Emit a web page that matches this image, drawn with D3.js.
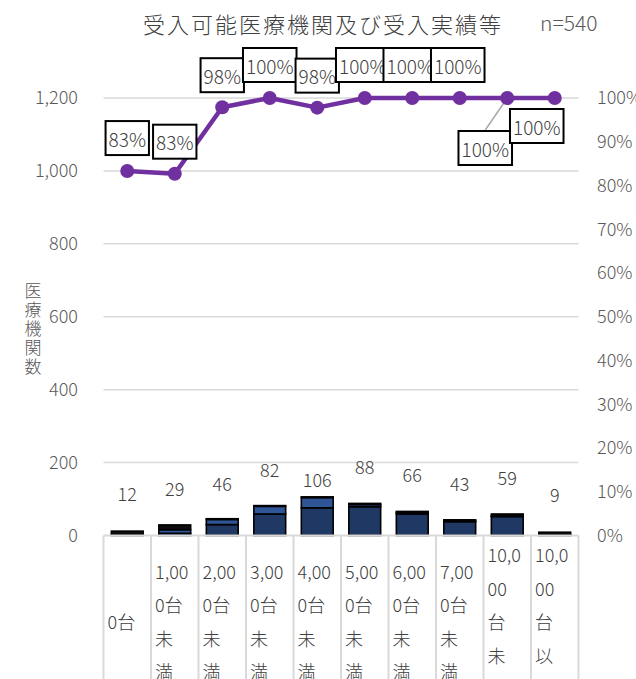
<!DOCTYPE html>
<html>
<head>
<meta charset="utf-8">
<script src="https://cdn.jsdelivr.net/npm/d3@7"></script>
<style>
  body { margin: 0; background: #fff; }
  text { font-family: "Noto Sans CJK JP", "Noto Sans", sans-serif; font-weight: 300; }
</style>
</head>
<body>
<div id="chart"></div>
<script>
// categories and their wrapped tick labels (as drawn in the table cells)
const categories = ["0台", "1,000台未満", "2,000台未満", "3,000台未満", "4,000台未満",
  "5,000台未満", "6,000台未満", "7,000台未満", "10,000台未満", "10,000台以上"];
const tickLines = [
  ["0台"], ["1,00", "0台", "未", "満"], ["2,00", "0台", "未", "満"], ["3,00", "0台", "未", "満"],
  ["4,00", "0台", "未", "満"], ["5,00", "0台", "未", "満"], ["6,00", "0台", "未", "満"],
  ["7,00", "0台", "未", "満"], ["10,0", "00", "台", "未", "満"], ["10,0", "00", "台", "以", "上"]
];

// stacked bar series (counts of institutions)
const seriesNavy = [2, 6, 30, 59, 76, 79, 59, 38, 52, 2];
const seriesBlue = [0, 10, 14, 21, 28, 6, 4, 1, 1, 0];
const seriesBlack = [10, 13, 2, 2, 2, 3, 3, 4, 6, 7];
const totals = [12, 29, 46, 82, 106, 88, 66, 43, 59, 9];

// line series (acceptance rate, right axis)
const acceptRate = [0.833, 0.827, 0.979, 1, 0.978, 1, 1, 1, 1, 1];
const rateLabels = ["83%", "83%", "98%", "100%", "98%", "100%", "100%", "100%", "100%", "100%"];

const leftTicks = [0, 200, 400, 600, 800, 1000, 1200];
const rightTicks = [0, .1, .2, .3, .4, .5, .6, .7, .8, .9, 1];

const width = 636, height = 679;
const marginLeft = 103.5, marginRight = 57.5, marginTop = 98, marginBottom = 144;

// manual label nudges (like the hand-placed labels in the original)
const rateLabelShift = [[0, -33], [0, -32], [0, -32], [0, -33], [0, -32], [-2, -33], [-2, -33], [-2, -33], [-22, 50], [-18, 28]];
const totalLabelShift = [-38, -37, -36, -37, -18, -37, -37, -37, -37, -38];

const svg = d3.select("#chart").append("svg")
    .attr("width", width)
    .attr("height", height);

const x = d3.scaleBand(categories, [marginLeft, width - marginRight]).paddingInner(0.33).paddingOuter(0.165);
const xCell = d3.scaleBand(categories, [marginLeft, width - marginRight]);
const y = d3.scaleLinear([0, 1200], [height - marginBottom - 0.5 + 1, marginTop]);
const yR = d3.scaleLinear([0, 1], y.range());

// gridlines
svg.append("g")
  .selectAll("line")
  .data(leftTicks.slice(1))
  .join("line")
    .attr("x1", marginLeft).attr("x2", width - marginRight)
    .attr("y1", d => y(d)).attr("y2", d => y(d))
    .attr("stroke", "#d9d9d9").attr("stroke-width", 1.5);

// left axis
const yAxis = d3.axisLeft(y).tickValues(leftTicks).tickSize(0).tickPadding(0).tickFormat(d3.format(","));
svg.append("g")
    .attr("transform", "translate(78,0)")
    .call(yAxis)
    .call(g => g.select(".domain").remove())
    .call(g => g.selectAll("text").attr("font-size", 18).attr("fill", "#595959")
      .attr("font-family", "'Noto Sans CJK JP', sans-serif"));

// right axis
const yAxisR = d3.axisRight(yR).tickValues(rightTicks).tickSize(0).tickPadding(0).tickFormat(d3.format(".0%"));
svg.append("g")
    .attr("transform", "translate(597,0)")
    .call(yAxisR)
    .call(g => g.select(".domain").remove())
    .call(g => g.selectAll("text").attr("font-size", 18).attr("fill", "#595959")
      .attr("font-family", "'Noto Sans CJK JP', sans-serif"));

// y-axis title, stacked vertically
svg.append("text")
    .attr("x", 33).attr("y", 289)
    .attr("font-size", 17).attr("fill", "#595959")
    .attr("dominant-baseline", "central")
    .selectAll("tspan")
    .data(Array.from("医療機関数"))
    .join("tspan")
      .attr("x", 33).attr("dy", (d, i) => i ? 19 : 0)
      .attr("text-anchor", "middle")
      .text(d => d);

// stacked bars
const stackData = categories.map((c, i) => ({cat: c, navy: seriesNavy[i], blue: seriesBlue[i], black: seriesBlack[i]}));
const stacked = d3.stack().keys(["navy", "blue", "black"])(stackData);
const colors = {navy: "#203864", blue: "#2f5597", black: "#0d0d0d"};

svg.append("g")
  .selectAll("g")
  .data(stacked)
  .join("g")
    .attr("fill", d => colors[d.key])
  .selectAll("rect")
  .data(d => d)
  .join("rect")
    .attr("x", d => x(d.data.cat))
    .attr("width", x.bandwidth())
    .attr("y", d => y(d[1]))
    .attr("height", d => y(d[0]) - y(d[1]))
    .attr("stroke", "#000")
    .attr("stroke-width", 1.6);

// x "table" lines
const cellTop = y(0);
svg.append("line")
    .attr("x1", marginLeft).attr("x2", width - marginRight)
    .attr("y1", cellTop).attr("y2", cellTop)
    .attr("stroke", "#d9d9d9").attr("stroke-width", 2);
svg.append("g")
  .selectAll("line")
  .data(categories.map(c => xCell(c)).concat([width - marginRight]))
  .join("line")
    .attr("x1", d => d).attr("x2", d => d)
    .attr("y1", cellTop).attr("y2", height)
    .attr("stroke", "#d9d9d9").attr("stroke-width", 2);

// tick labels in cells
const lineH = 33.5, cellMid = 621;
svg.append("g")
  .selectAll("text")
  .data(categories)
  .join("text")
    .attr("font-size", 18).attr("fill", "#404040")
    .attr("dominant-baseline", "central")
    .each(function(c, i) {
      const lines = tickLines[i];
      const y0 = cellMid - (lines.length - 1) * lineH / 2;
      const left = xCell(c) + 4;
      d3.select(this).selectAll("tspan")
        .data(lines)
        .join("tspan")
          .attr("x", left)
          .attr("y", (d, k) => y0 + k * lineH)
          .text(d => d);
    });

// total labels above bars
svg.append("g")
  .selectAll("text")
  .data(totals)
  .join("text")
    .attr("x", (d, i) => x(categories[i]) + x.bandwidth() / 2)
    .attr("y", (d, i) => y(d) + totalLabelShift[i])
    .attr("text-anchor", "middle")
    .attr("dominant-baseline", "central")
    .attr("font-size", 18).attr("fill", "#404040")
    .text(d => d);

// rate line
const cx = i => x(categories[i]) + x.bandwidth() / 2;
svg.append("path")
    .datum(acceptRate)
    .attr("fill", "none")
    .attr("stroke", "#7030a0")
    .attr("stroke-width", 4.5)
    .attr("stroke-linejoin", "round")
    .attr("d", d3.line((d, i) => cx(i), d => yR(d)));

// leader line for the 9th label
svg.append("line")
    .attr("x1", cx(8)).attr("y1", yR(acceptRate[8]))
    .attr("x2", cx(8) + rateLabelShift[8][0]).attr("y2", yR(acceptRate[8]) + rateLabelShift[8][1] - 18)
    .attr("stroke", "#a6a6a6").attr("stroke-width", 1.5);

svg.append("g")
  .selectAll("circle")
  .data(acceptRate)
  .join("circle")
    .attr("cx", (d, i) => cx(i))
    .attr("cy", d => yR(d))
    .attr("r", 7)
    .attr("fill", "#7030a0");

// rate labels with boxes
const lab = svg.append("g")
  .selectAll("g")
  .data(acceptRate)
  .join("g")
    .attr("transform", (d, i) => `translate(${cx(i) + rateLabelShift[i][0]},${yR(d) + rateLabelShift[i][1]})`);
lab.append("rect");
lab.append("text")
    .attr("text-anchor", "middle")
    .attr("dominant-baseline", "central")
    .attr("font-size", 19).attr("fill", "#404040")
    .text((d, i) => rateLabels[i]);
lab.each(function() {
  const g = d3.select(this);
  const w = g.select("text").node().getComputedTextLength();
  g.select("rect")
    .attr("x", -w / 2 - 3).attr("width", w + 6)
    .attr("y", -17).attr("height", 34)
    .attr("fill", "#fff").attr("stroke", "#000").attr("stroke-width", 2);
});

// title
svg.append("text")
    .attr("x", 323).attr("y", 23)
    .attr("text-anchor", "middle")
    .attr("dominant-baseline", "central")
    .attr("font-size", 22).attr("letter-spacing", 2).attr("fill", "#404040")
    .text("受入可能医療機関及び受入実績等");
svg.append("text")
    .attr("x", 540).attr("y", 22)
    .attr("dominant-baseline", "central")
    .attr("font-size", 21).attr("fill", "#595959")
    .text("n=540");
</script>
</body>
</html>
